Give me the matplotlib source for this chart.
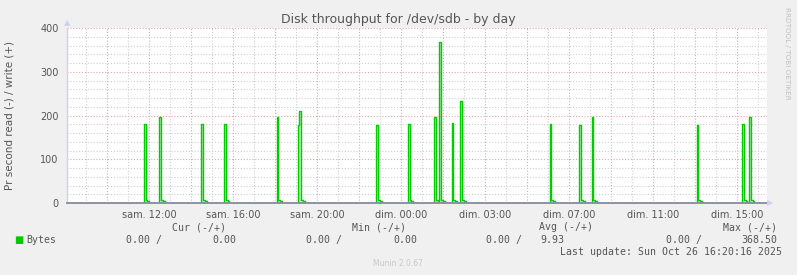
import numpy as np
import matplotlib
matplotlib.use("Agg")
import matplotlib.pyplot as plt
from matplotlib.ticker import FixedLocator

# ---- data (elapsed hours since sam. 00:00) ----
spike_hours = [11.79, 12.48, 14.46, 15.55, 18.07, 19.10, 19.19, 22.83, 24.31, 25.59,
               25.83, 26.43, 26.86, 31.07, 32.50, 33.06, 38.06, 40.25, 40.60]
spike_values = [180, 196, 180, 180, 196, 178, 210, 178, 180, 196,
                368.5, 182, 233, 180, 178, 196, 178, 180, 196]
tail_values = [8, 4]
tick_hours = [12, 16, 20, 24, 28, 32, 36, 40]
tick_labels = ["sam. 12:00", "sam. 16:00", "sam. 20:00", "dim. 00:00",
               "dim. 03:00", "dim. 07:00", "dim. 11:00", "dim. 15:00"]
y_ticks = [0, 100, 200, 300, 400]
legend_cols = ["Cur (-/+)", "Min (-/+)", "Avg (-/+)", "Max (-/+)"]
legend_vals = [("0.00", "0.00"), ("0.00", "0.00"), ("0.00", "9.93"), ("0.00", "368.50")]

t_start, n_steps, step = 8.0833, 400, 1 / 12
grid_t = t_start + np.arange(n_steps + 1) * step
series = np.zeros_like(grid_t)
for h, v in zip(spike_hours, spike_values):
    i = int(round((h - t_start) / step))
    series[i] = max(series[i], v)
    for k, tv in enumerate(tail_values, start=1):
        if i + k < len(series) and series[i + k] < tv:
            series[i + k] = tv

W, H = 797, 275
fig = plt.figure(figsize=(W / 100, H / 100), dpi=100, facecolor="#f0f0f0")
L, R, T, B = 67, 767, 28, 203
ax = fig.add_axes([L / W, 1 - B / H, (R - L) / W, (B - T) / H])
ax.set_facecolor("white")

x_lo, x_hi = 8.095, 41.43
ax.set_xlim(x_lo, x_hi)
ax.set_ylim(0, 400)

# grid
for h in np.arange(9, 42, 1):
    c = "#e4a8a8" if h % 2 == 0 else "#cfcfcf"
    ax.axvline(h, color=c, lw=0.8, ls=(0, (1, 1.6)), zorder=1)
for yv in np.arange(20, 401, 20):
    c = "#e4a8a8" if yv % 100 == 0 else "#cfcfcf"
    ax.axhline(yv, color=c, lw=0.8, ls=(0, (1, 1.6)), zorder=1)

ax.step(grid_t, series, where="post", color="#00cc00", lw=1.0, zorder=3)
ax.fill_between(grid_t, series, step="post", color="#66dd66", alpha=0.45, lw=0, zorder=2)
ax.axhline(0, color="#8a8aa0", lw=1.3, zorder=6, clip_on=False)

for s in ["top", "right", "bottom"]:
    ax.spines[s].set_visible(False)
ax.spines["left"].set_color("#d0d0f0")
ax.spines["left"].set_linewidth(1)

ax.xaxis.set_major_locator(FixedLocator(tick_hours))
ax.set_xticklabels(tick_labels)
ax.yaxis.set_major_locator(FixedLocator(y_ticks))
ax.set_yticklabels([str(v) for v in y_ticks])
ax.tick_params(axis="both", labelsize=7, colors="#555555", length=0)
ax.tick_params(axis="x", pad=5)
ax.tick_params(axis="y", pad=6)

# arrows
fig.text(L / W, 1 - 23 / H, "▲", color="#d0d0f0", fontsize=6, ha="center", va="center")
fig.text((R + 3) / W, 1 - B / H, "▶", color="#d0d0f0", fontsize=6, ha="center", va="center")

def ft(x, y, s, **kw):
    fig.text(x / W, 1 - y / H, s, **kw)

ft(398, 19, "Disk throughput for /dev/sdb - by day", ha="center", va="center",
   fontsize=9, color="#555555")
ft(10, 116, "Pr second read (-) / write (+)", ha="center", va="center",
   rotation=90, fontsize=7.5, color="#555555")
ft(787, 53, "RRDTOOL / TOBI OETIKER", ha="center", va="center", rotation=-90,
   fontsize=5.2, color="#c0c0c0")

mono = dict(family="DejaVu Sans Mono", fontsize=7.1, color="#555555", va="center")
col_right = [226, 406, 593, 777]
for name, xr in zip(legend_cols, col_right):
    ft(xr, 227, name, ha="right", **mono)
ft(14, 240, "■", ha="left", family="DejaVu Sans", fontsize=7, color="#00cc00", va="center")
ft(26, 240, "Bytes", ha="left", **mono)
slash_right = [162, 342, 522, 702]
val_right = [236, 417, 564, 777]
for (a, b), sr, vr in zip(legend_vals, slash_right, val_right):
    ft(sr, 240, a + " /", ha="right", **mono)
    ft(vr, 240, b, ha="right", **mono)
ft(782, 252, "Last update: Sun Oct 26 16:20:16 2025", ha="right", **mono)
ft(398, 264, "Munin 2.0.67", ha="center", va="center", fontsize=5.5, color="#c8c8c8")

fig.savefig("out.png", dpi=100, facecolor=fig.get_facecolor())
